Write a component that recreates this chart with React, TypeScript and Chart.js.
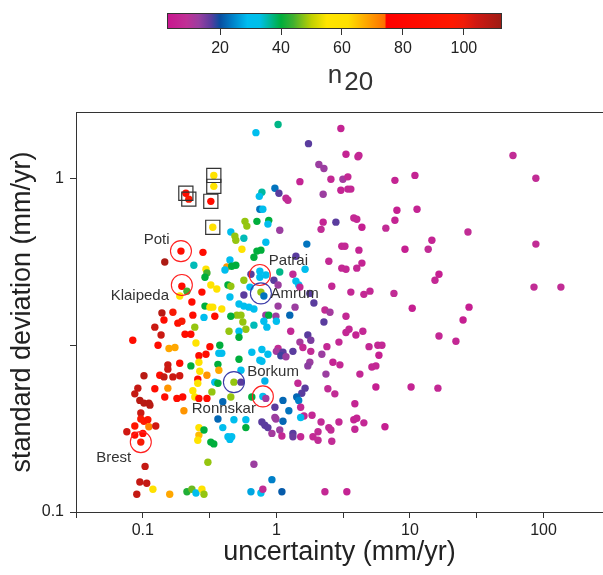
import React, { useEffect, useRef } from 'react';
import { Chart, registerables } from 'chart.js';

Chart.register(...registerables);

const FONT = '"Liberation Sans", Arial, Helvetica, sans-serif';

// uncertainty (mm/yr) of every station
const uncertaintyMmYr = [
  0.193, 0.282, 0.146, 0.241, 0.297, 0.302, 0.292, 0.196, 0.214, 0.189, 0.277, 0.323, 0.358, 0.426, 0.412, 0.434,
  0.210, 0.221, 0.340, 0.340, 0.323, 0.334,
  1.03, 0.703, 1.74, 1.50, 0.779, 0.745, 0.975, 1.045, 1.18, 1.22, 0.752, 0.792, 0.582, 0.601, 0.715, 0.877, 0.864, 1.06,
  0.456, 0.489, 0.497, 0.571, 0.834, 1.69, 0.552, 0.715, 0.766, 0.679, 0.449, 0.463, 0.497, 1.40, 0.645, 0.752, 0.752,
  0.834, 1.06, 1.33, 1.64, 0.571, 0.456, 0.634, 0.571, 0.766, 0.806, 0.958, 1.03, 1.40, 1.47, 1.78, 0.449, 1.50,
  3.04, 3.32, 4.15, 4.08, 59.1, 2.08, 2.27, 2.56, 3.15, 3.43, 7.72, 10.9, 87.7, 2.24, 3.04, 3.43, 3.61, 7.99, 11.3, 7.72,
  2.24, 2.16, 2.79, 3.80, 4.00, 4.37, 6.60, 27.2, 3.09, 3.26, 4.15, 9.18, 13.7, 14.6, 87.7, 2.47, 3.09, 3.32, 4.00, 4.37,
  16.5, 15.4, 2.60, 3.61, 4.52, 5.02, 7.59, 84.9, 135,
  0.233, 0.292, 0.318, 0.334, 0.390, 0.287, 0.346, 0.237, 0.139, 0.168, 0.144, 0.183, 0.196, 0.123, 0.245, 0.137, 0.207,
  0.229, 0.0841, 0.130, 0.157, 0.174, 0.250, 0.318, 0.377, 0.371, 0.390, 0.263, 0.297, 0.365, 0.229, 0.263, 0.267, 0.302,
  0.371, 0.189, 0.154, 0.154, 0.102, 0.134, 0.144, 0.168, 0.189, 0.154, 0.258, 0.258, 0.346, 0.365, 0.0918, 0.123,
  0.0871, 0.095, 0.102, 0.111, 0.113, 0.146, 0.180, 0.199, 0.237, 0.245, 0.263, 0.302, 0.329, 0.0966, 0.203, 0.397,
  0.0966, 0.102, 0.109, 0.0871, 0.111, 0.125, 0.0759, 0.0871, 0.100, 0.0966, 0.104, 0.095, 0.107, 0.0901, 0.119, 0.159,
  0.307, 0.214, 0.233, 0.250, 0.277, 0.287, 0.263, 0.263, 0.258, 0.287, 0.323, 0.340, 0.397, 0.365, 0.434, 0.449, 0.463,
  0.442,
  0.525, 0.571, 0.623, 0.679, 1.03, 1.38, 1.91, 2.31, 2.52, 3.32, 0.506, 0.543, 0.456, 0.834, 0.877, 0.992, 1.26, 0.806,
  0.849, 1.00, 2.27, 0.679, 0.561, 0.591, 0.525, 0.525, 1.28, 3.32, 3.50, 3.94, 4.44, 2.94, 1.72, 1.81, 1.50, 1.58, 1.81,
  2.19, 2.39, 2.65, 2.99, 1.78, 1.72, 2.35, 4.94, 5.75, 6.17, 5.86, 5.19, 5.56, 4.22, 5.56, 0.655, 0.779, 0.864, 1.03,
  1.00, 1.12, 1.08, 1.18, 1.33, 0.752, 0.779, 0.525, 0.543, 0.481, 0.543, 0.820, 1.45, 1.64, 1.55, 2.43, 2.74, 0.456,
  0.655, 0.792, 0.834, 1.42, 1.47, 1.12, 1.24, 0.975, 1.52, 1.61, 1.85, 1.52, 0.975, 0.992, 1.12, 0.779, 0.820, 0.864,
  0.926, 1.06, 1.10, 1.33, 1.33, 1.52, 1.88, 2.05, 2.05, 2.47, 2.56, 2.60, 2.16, 2.94, 3.80, 4.00, 3.87, 4.52, 3.87,
  0.481, 0.591, 0.591, 0.679, 0.926, 0.645, 0.766, 0.792, 1.10, 2.31, 3.37,
  10.4, 27.7, 25.0, 16.5, 22.1, 10.2, 16.2, 6.50,
];

// standard deviation (mm/yr) of every station
const stdDevMmYr = [
  0.605, 0.600, 0.561, 0.549, 0.534, 0.520, 0.505, 0.475, 0.459, 0.444, 0.456, 0.479, 0.466, 0.542, 0.531, 0.479,
  0.902, 0.866, 1.02, 0.946, 0.853, 0.713,
  1.45, 1.37, 1.27, 0.977, 0.908, 0.883, 0.934, 0.902, 0.872, 0.859, 0.808, 0.808, 0.743, 0.719, 0.743, 0.748, 0.729,
  0.699, 0.690, 0.671, 0.652, 0.661, 0.643, 0.635, 0.613, 0.605, 0.609, 0.580, 0.569, 0.545, 0.549, 0.584, 0.516, 0.527,
  0.505, 0.513, 0.524, 0.516, 0.534, 0.495, 0.475, 0.472, 0.447, 0.456, 0.444, 0.495, 0.479, 0.492, 0.479, 0.452, 0.441,
  0.472,
  1.41, 1.18, 1.17, 1.16, 1.17, 1.10, 1.07, 0.993, 0.993, 1.01, 0.986, 1.02, 1.00, 0.896, 0.921, 0.928, 0.928, 0.802,
  0.808, 0.749, 0.739, 0.703, 0.739, 0.760, 0.754, 0.713, 0.709, 0.690, 0.626, 0.626, 0.609, 0.613, 0.613, 0.652, 0.635,
  0.564, 0.538, 0.534, 0.538, 0.557, 0.516, 0.495, 0.475, 0.456, 0.449, 0.459, 0.452, 0.472, 0.472,
  0.426, 0.414, 0.411, 0.411, 0.406, 0.383, 0.386, 0.389, 0.395, 0.397, 0.376, 0.368, 0.373, 0.358, 0.358, 0.339, 0.341,
  0.341, 0.327, 0.316, 0.309, 0.311, 0.321, 0.313, 0.316, 0.299, 0.299, 0.294, 0.297, 0.277, 0.274, 0.281, 0.264, 0.257,
  0.266, 0.279, 0.276, 0.268, 0.256, 0.257, 0.254, 0.254, 0.256, 0.235, 0.250, 0.243, 0.245, 0.243, 0.235, 0.234,
  0.226, 0.216, 0.212, 0.212, 0.209, 0.221, 0.219, 0.221, 0.231, 0.221, 0.219, 0.219, 0.229, 0.198, 0.201, 0.214,
  0.190, 0.187, 0.189, 0.181, 0.180, 0.181, 0.174, 0.170, 0.172, 0.162, 0.137, 0.123, 0.122, 0.113, 0.117, 0.113,
  0.141, 0.115, 0.117, 0.114, 0.117, 0.113, 0.179, 0.170, 0.164, 0.176, 0.162, 0.160, 0.179, 0.190, 0.168, 0.165, 0.168,
  0.348,
  0.420, 0.414, 0.411, 0.406, 0.414, 0.411, 0.423, 0.403, 0.397, 0.386, 0.389, 0.389, 0.386, 0.389, 0.389, 0.386, 0.389,
  0.373, 0.358, 0.373, 0.371, 0.363, 0.371, 0.353, 0.348, 0.334, 0.348, 0.345, 0.353, 0.339, 0.348, 0.323, 0.339, 0.327,
  0.323, 0.311, 0.303, 0.297, 0.313, 0.281, 0.276, 0.281, 0.274, 0.259, 0.313, 0.316, 0.316, 0.295, 0.272, 0.274, 0.259,
  0.237, 0.301, 0.307, 0.297, 0.309, 0.303, 0.301, 0.294, 0.292, 0.303, 0.285, 0.283, 0.287, 0.266, 0.245, 0.245, 0.247,
  0.243, 0.235, 0.227, 0.234, 0.226, 0.221, 0.221, 0.222, 0.219, 0.221, 0.216, 0.216, 0.201, 0.206, 0.206, 0.194, 0.195,
  0.192, 0.192, 0.190, 0.187, 0.186, 0.182, 0.179, 0.172, 0.176, 0.169, 0.172, 0.168, 0.168, 0.168, 0.174, 0.164, 0.179,
  0.176, 0.163, 0.186, 0.186, 0.189, 0.191, 0.177, 0.185, 0.211, 0.189, 0.189, 0.179, 0.139, 0.125, 0.115, 0.114, 0.117,
  0.115, 0.115, 0.115,
  0.408, 0.411, 0.376, 0.337, 0.325, 0.237, 0.235, 0.180,
];

// n20 of every station (sets the colour)
const n20Values = [
  85, 85, 110, 35, 58, 44, 40, 85, 44, 58, 85, 58, 58, 70, 30, 40,
  85, 98, 58, 58, 85, 60,
  37, 30, 17, 6, 36, 30, 23, 17, 8, 8, 23, 30, 48, 48, 40, 40, 30, 13, 30, 48, 48, 35, 30, 23, 58, 40, 40, 40, 30, 40,
  40, 17, 17, 30, 30, 30, 37, 8, 30, 48, 48, 30, 17, 48, 23, 17, 13, 30, 30, 17, 30, 7,
  6, 6, 7, 7, 8, 13, 13, 7, 12, 7, 6, 6, 8, 13, 6, 7, 7, 5, 6, 6, 6, 8, 17, 7, 7, 5, 8, 8, 7, 7, 6, 5, 8, 6, 8, 7, 7, 7,
  7, 6, 5, 7, 7, 7, 7, 7, 8, 8, 8,
  85, 40, 58, 58, 58, 30, 85, 85, 108, 98, 85, 88, 98, 105, 48, 105, 85, 85, 85, 85, 68, 68, 58, 85, 40, 30, 30, 85, 85,
  40, 40, 60, 62, 70, 68, 85, 105, 105, 108, 85, 106, 105, 104, 70, 85, 58, 30, 40, 106, 85, 106, 108, 108, 108, 108, 85,
  85, 85, 58, 58, 85, 85, 48, 105, 70, 22, 98, 96, 92, 92, 72, 104, 104, 85, 85, 98, 106, 106, 106, 106, 60, 68, 48, 42,
  46, 30, 58, 48, 58, 66, 58, 40, 40, 40, 30, 22, 30, 30, 30, 48,
  30, 30, 30, 30, 13, 13, 17, 8, 12, 7, 48, 48, 40, 13, 40, 13, 22, 30, 30, 30, 17, 35, 48, 48, 30, 40, 7, 7, 7, 6, 7, 7,
  17, 15, 12, 7, 8, 13, 7, 6, 7, 13, 14, 13, 7, 7, 7, 5, 7, 7, 7, 5, 30, 30, 30, 8, 12, 17, 18, 13, 17, 30, 30, 40, 30,
  48, 17, 28, 7, 17, 17, 8, 8, 48, 40, 30, 12, 22, 24, 22, 23, 17, 7, 7, 7, 30, 13, 13, 22, 17, 17, 17, 12, 13, 7, 17, 16,
  7, 7, 8, 8, 8, 8, 8, 8, 7, 6, 6, 7, 7, 6, 30, 30, 40, 13, 24, 27, 30, 8, 21, 7, 6,
  5, 5, 5, 7, 7, 6, 7, 5,
];

// stations drawn inside a square
const boxedUncertainty = [0.210, 0.221, 0.340, 0.340, 0.323, 0.334];
const boxedStdDev = [0.902, 0.866, 1.02, 0.946, 0.853, 0.713];

// highlighted stations (red and blue rings)
const redRingUncertainty = [0.193, 0.196, 0.752, 0.792, 0.0966];
const redRingStdDev = [0.605, 0.479, 0.513, 0.222, 0.162];
const blueRingUncertainty = [0.766, 0.481];
const blueRingStdDev = [0.452, 0.245];

// station names and the place of their text
const stationNames = ['Poti', 'Klaipeda', 'Patrai', 'Amrum', 'Borkum', 'Ronnskar', 'Brest'];
const stationLabelX = [0.127, 0.095, 1.23, 1.37, 0.945, 0.404, 0.0606];
const stationLabelY = [0.652, 0.444, 0.564, 0.449, 0.263, 0.204, 0.145];

// axes
const xTickValues = [0.0316, 0.1, 0.316, 1, 3.16, 10, 31.6, 100];
const xTickLabelled = [0.1, 1, 10, 100];
const yTickValues = [0.1, 0.316, 1];
const yTickLabelled = [0.1, 1];
const xRange = [0.0316, 279];
const yRange = [0.1, 1.58];

// colour bar
const colorbarTicks = [20, 40, 60, 80, 100];
const n20Range = [2.6, 112.5];
const cmapStops = [3, 9, 13, 17, 20, 24, 29, 33, 36, 40, 44, 50, 55, 62, 67, 74, 74.6, 96, 100, 104, 112];
const cmapColors = [
  '#c8178f', '#c03096', '#9b3ea0', '#5a3c9e', '#084ea0', '#0080c8', '#00bdf0', '#00c0e8', '#00b8a0', '#00ae3c',
  '#40b030', '#c0d000', '#ffe500', '#ffe000', '#ffb000', '#ff7000', '#ff0000', '#ff1800', '#f01c08', '#d01812',
  '#a01c14',
];

function hexRgb(h: string): number[] {
  const n = parseInt(h.slice(1), 16);
  return [(n >> 16) & 255, (n >> 8) & 255, n & 255];
}

function n20Color(v: number): string {
  if (v <= cmapStops[0]) return cmapColors[0];
  for (let i = 1; i < cmapStops.length; i++) {
    if (v <= cmapStops[i]) {
      const t = (v - cmapStops[i - 1]) / (cmapStops[i] - cmapStops[i - 1]);
      const a = hexRgb(cmapColors[i - 1]);
      const b = hexRgb(cmapColors[i]);
      const c = a.map((av, k) => Math.round(av + (b[k] - av) * t));
      return `rgb(${c[0]},${c[1]},${c[2]})`;
    }
  }
  return cmapColors[cmapColors.length - 1];
}

const topFramePlugin = {
  id: 'topFrame',
  afterDraw(chart: any) {
    const { ctx, chartArea: a } = chart;
    ctx.save();
    ctx.strokeStyle = '#333';
    ctx.lineWidth = 1.2;
    ctx.beginPath();
    ctx.moveTo(a.left, a.top + 0.5);
    ctx.lineTo(a.right, a.top + 0.5);
    ctx.stroke();
    ctx.restore();
  },
};

const stationLabelPlugin = {
  id: 'stationLabels',
  afterDatasetsDraw(chart: any) {
    const { ctx, scales } = chart;
    ctx.save();
    ctx.font = `15px ${FONT}`;
    ctx.fillStyle = '#333';
    ctx.textAlign = 'center';
    ctx.textBaseline = 'middle';
    stationNames.forEach((name, i) => {
      ctx.fillText(name, scales.x.getPixelForValue(stationLabelX[i]), scales.y.getPixelForValue(stationLabelY[i]));
    });
    ctx.restore();
  },
};

const colorbarPlugin = {
  id: 'colorbar',
  beforeDraw(chart: any) {
    const { ctx, chartArea: a, scales } = chart;
    const sx = scales.x;
    const g = ctx.createLinearGradient(a.left, 0, a.right, 0);
    cmapStops.forEach((v, i) => {
      const t = (sx.getPixelForValue(v) - a.left) / (a.right - a.left);
      if (t >= 0 && t <= 1) g.addColorStop(t, cmapColors[i]);
    });
    ctx.save();
    ctx.fillStyle = g;
    ctx.fillRect(a.left, a.top, a.right - a.left, a.bottom - a.top);
    ctx.strokeStyle = '#333';
    ctx.lineWidth = 1;
    ctx.strokeRect(a.left + 0.5, a.top + 0.5, a.right - a.left - 1, a.bottom - a.top - 1);
    // title n20
    ctx.fillStyle = '#333';
    ctx.font = `26px ${FONT}`;
    ctx.textBaseline = 'alphabetic';
    ctx.textAlign = 'left';
    const wn = ctx.measureText('n').width;
    const wd = ctx.measureText('20').width;
    const cx = (a.left + a.right) / 2 + 16;
    const start = cx - (wn + wd + 2) / 2;
    ctx.fillText('n', start, a.bottom + 54);
    ctx.fillText('20', start + wn + 2, a.bottom + 61);
    ctx.restore();
  },
};

export default function App() {
  const mainRef = useRef<HTMLCanvasElement>(null);
  const barRef = useRef<HTMLCanvasElement>(null);

  useEffect(() => {
    Chart.defaults.font.family = FONT;
    const points = uncertaintyMmYr.map((x, i) => ({ x, y: stdDevMmYr[i] }));
    const colors = n20Values.map((v) => n20Color(v));
    const boxes = boxedUncertainty.map((x, i) => ({ x, y: boxedStdDev[i] }));
    const redRings = redRingUncertainty.map((x, i) => ({ x, y: redRingStdDev[i] }));
    const blueRings = blueRingUncertainty.map((x, i) => ({ x, y: blueRingStdDev[i] }));

    const gridCfg = { drawOnChartArea: false, drawTicks: true, tickLength: 6, color: '#333', lineWidth: 1 };
    const borderCfg = { display: true, color: '#333', width: 1 };

    const main = new Chart(mainRef.current as HTMLCanvasElement, {
      type: 'scatter',
      data: {
        datasets: [
          {
            data: blueRings,
            pointStyle: 'circle',
            pointRadius: 10.5,
            pointHoverRadius: 10.5,
            pointBorderColor: '#3c3ca8',
            pointBorderWidth: 1.1,
            pointBackgroundColor: 'rgba(0,0,0,0)',
          },
          {
            data: redRings,
            pointStyle: 'circle',
            pointRadius: 10.5,
            pointHoverRadius: 10.5,
            pointBorderColor: '#ff2020',
            pointBorderWidth: 1.1,
            pointBackgroundColor: 'rgba(0,0,0,0)',
          },
          {
            data: boxes,
            pointStyle: 'rect',
            pointRadius: 10,
            pointHoverRadius: 10,
            pointBorderColor: '#333',
            pointBorderWidth: 1.2,
            pointBackgroundColor: 'rgba(0,0,0,0)',
          },
          {
            data: points,
            pointStyle: 'circle',
            pointRadius: 3.7,
            pointHoverRadius: 3.7,
            pointBorderWidth: 0,
            pointBackgroundColor: colors,
          },
        ],
      } as any,
      options: {
        animation: false,
        responsive: false,
        events: [],
        layout: { autoPadding: false, padding: { top: 112, left: 0, right: 0, bottom: 0 } },
        plugins: { legend: { display: false }, tooltip: { enabled: false } },
        scales: {
          x: {
            type: 'logarithmic',
            min: xRange[0],
            max: xRange[1],
            afterBuildTicks: (s: any) => {
              s.ticks = xTickValues.map((v) => ({ value: v }));
            },
            afterFit: (s: any) => {
              s.height = 63;
            },
            grid: gridCfg,
            border: borderCfg,
            ticks: {
              autoSkip: false,
              maxRotation: 0,
              padding: 3,
              color: '#222',
              font: { family: FONT, size: 16 },
              callback: (v: any) => (xTickLabelled.includes(v) ? String(v) : ''),
            },
            title: {
              display: true,
              text: 'uncertainty (mm/yr)',
              color: '#222',
              font: { family: FONT, size: 27 },
              padding: { top: 0, bottom: 6 },
            },
          },
          y: {
            type: 'logarithmic',
            min: yRange[0],
            max: yRange[1],
            afterBuildTicks: (s: any) => {
              s.ticks = yTickValues.map((v) => ({ value: v }));
            },
            afterFit: (s: any) => {
              s.width = 76;
            },
            grid: gridCfg,
            border: borderCfg,
            ticks: {
              autoSkip: false,
              padding: 6,
              color: '#222',
              font: { family: FONT, size: 16 },
              callback: (v: any) => (yTickLabelled.includes(v) ? String(v) : ''),
            },
            title: {
              display: true,
              text: 'standard deviation (mm/yr)',
              color: '#222',
              font: { family: FONT, size: 27 },
              padding: { top: 6, bottom: 0 },
            },
          },
        },
      } as any,
      plugins: [topFramePlugin, stationLabelPlugin],
    });

    const bar = new Chart(barRef.current as HTMLCanvasElement, {
      type: 'scatter',
      data: { datasets: [] },
      options: {
        animation: false,
        responsive: false,
        events: [],
        layout: { autoPadding: false, padding: { top: 13, left: 167, right: 101, bottom: 0 } },
        plugins: { legend: { display: false }, tooltip: { enabled: false } },
        scales: {
          x: {
            type: 'linear',
            min: n20Range[0],
            max: n20Range[1],
            afterBuildTicks: (s: any) => {
              s.ticks = colorbarTicks.map((v) => ({ value: v }));
            },
            afterFit: (s: any) => {
              s.height = 71;
            },
            grid: { drawOnChartArea: false, drawTicks: true, tickLength: 6, color: '#333', lineWidth: 1 },
            border: { display: false },
            ticks: {
              autoSkip: false,
              maxRotation: 0,
              padding: 4,
              color: '#222',
              font: { family: FONT, size: 16 },
              callback: (v: any) => String(v),
            },
          },
          y: { display: false, min: 0, max: 1 },
        },
      } as any,
      plugins: [colorbarPlugin],
    });

    return () => {
      main.destroy();
      bar.destroy();
    };
  }, []);

  return (
    <div style={{ position: 'absolute', left: 0, top: 0, width: 603, height: 575 }}>
      <canvas
        ref={mainRef}
        width={603}
        height={575}
        style={{ position: 'absolute', left: 0, top: 0, width: 603, height: 575 }}
      />
      <canvas
        ref={barRef}
        width={603}
        height={100}
        style={{ position: 'absolute', left: 0, top: 0, width: 603, height: 100 }}
      />
    </div>
  );
}
